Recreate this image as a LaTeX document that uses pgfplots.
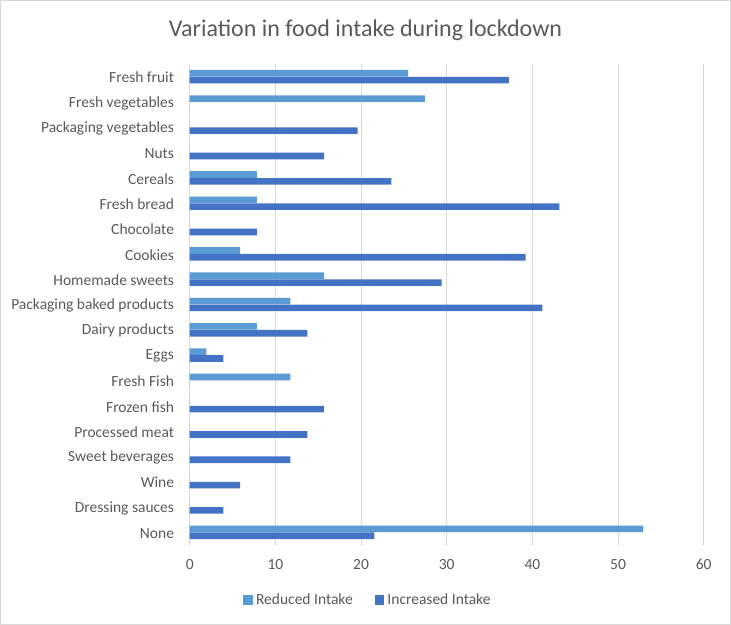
\documentclass[border=0pt]{standalone}
\usepackage{fontspec}
\setmainfont{Carlito}
\usepackage{pgfplots}
\pgfplotsset{compat=1.18}
\definecolor{redc}{HTML}{5B9BD5}
\definecolor{incc}{HTML}{4472C4}
\definecolor{gridc}{HTML}{D9D9D9}
\definecolor{txt}{HTML}{595959}
\begin{document}
\begin{tikzpicture}
\useasboundingbox (0bp,0bp) rectangle (731bp,625bp);
\draw[gridc, line width=1bp] (0.5bp,0.5bp) rectangle (730.5bp,624.5bp);
\node[txt, font=\fontsize{24bp}{28bp}\selectfont, inner sep=0pt] at (365.5bp,595bp) {Variation in food intake during lockdown};
\begin{axis}[
  at={(189.7bp,80bp)}, anchor=south west,
  scale only axis, width=514bp, height=481bp,
  xbar, xmin=0, xmax=60, ymin=-0.5, ymax=18.5,
  ytick={0,...,18},
  yticklabels={None,Dressing sauces,Wine,Sweet beverages,Processed meat,Frozen fish,Fresh Fish,Eggs,Dairy products,Packaging baked products,Homemade sweets,Cookies,Chocolate,Fresh bread,Cereals,Nuts,Packaging vegetables,Fresh vegetables,Fresh fruit},
  xtick={0,10,...,60},
  axis line style={draw=none},
  major tick length=0pt,
  xmajorgrids, grid style={gridc, line width=1bp},
  tick label style={txt, font=\fontsize{15.5bp}{18bp}\selectfont},
  yticklabel style={inner sep=0pt, xshift=-15.5bp, yshift=-1bp},
  xticklabel style={inner sep=0pt, yshift=-14bp},
  /pgf/number format/assume math mode=true,
  bar width=6.6bp,
  legend style={draw=none, at={(0.3466,-0.1143)}, anchor=center, legend columns=2,
    font=\fontsize{15.5bp}{18bp}\selectfont, text=txt,
    /tikz/every even column/.append style={column sep=20bp}},
  legend image code/.code={\fill[#1] (0bp,-4.6bp) rectangle (9.3bp,4.6bp);},
  legend cell align=left,
]
\addplot[fill=redc, draw=none, bar shift=3.4bp] coordinates {
(25.49,18) (27.45,17) (0,16) (0,15) (7.84,14) (7.84,13) (0,12) (5.88,11) (15.69,10) (11.76,9) (7.84,8) (1.96,7) (11.76,6) (0,5) (0,4) (0,3) (0,2) (0,1) (52.94,0)};
\addplot[fill=incc, draw=none, bar shift=-3.4bp] coordinates {
(37.25,18) (0,17) (19.61,16) (15.69,15) (23.53,14) (43.14,13) (7.84,12) (39.22,11) (29.41,10) (41.18,9) (13.73,8) (3.92,7) (0,6) (15.69,5) (13.73,4) (11.76,3) (5.88,2) (3.92,1) (21.57,0)};
\legend{\hspace{1.5bp}Reduced Intake, \hspace{1.5bp}Increased Intake}
\end{axis}
\end{tikzpicture}
\end{document}
